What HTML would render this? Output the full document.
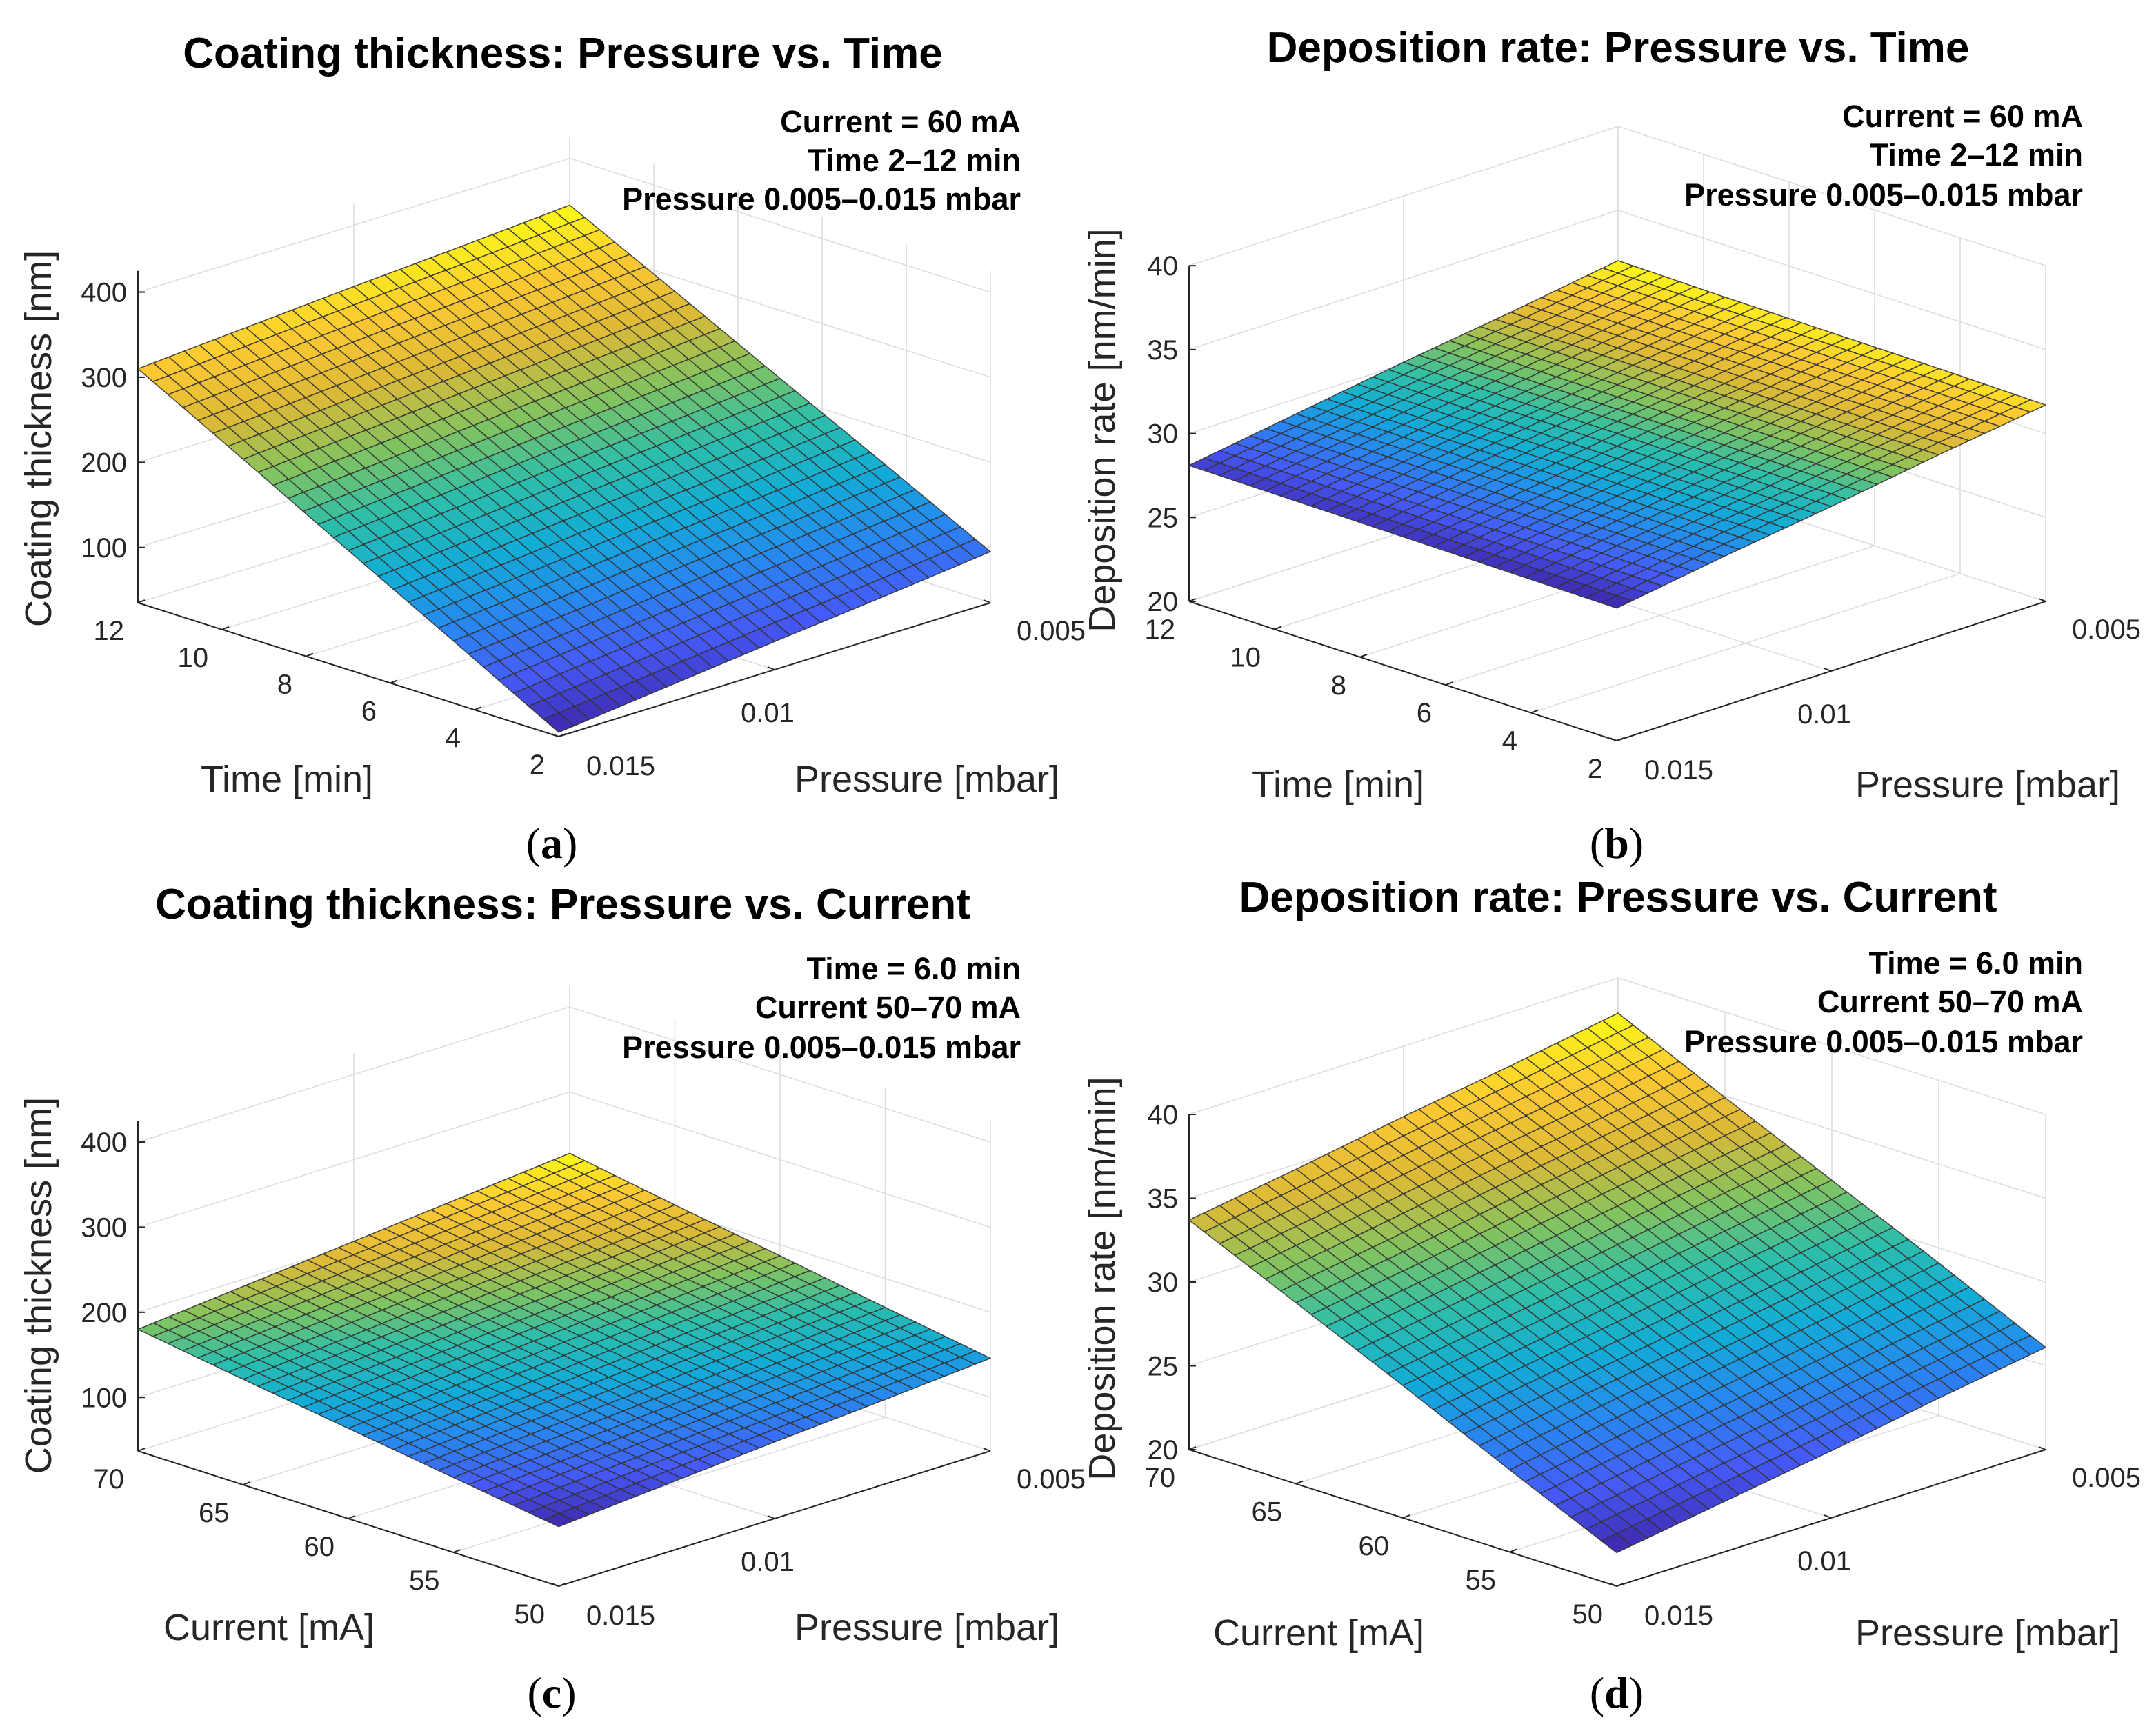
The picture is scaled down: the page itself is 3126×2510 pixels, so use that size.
<!DOCTYPE html>
<html><head><meta charset="utf-8"><style>
html,body{margin:0;padding:0;background:#fff}
svg{display:block}
text{font-family:"Liberation Sans",Arial,sans-serif;fill:#262626}
.t{font-weight:bold;font-size:31px;fill:#000}
.an{font-weight:bold;font-size:22.5px;fill:#000}
.al{font-size:27px}
.tk{font-size:20px}
.pl{font-family:"Liberation Serif",serif;font-size:32px;fill:#000}
</style></head><body>
<svg id="fig" width="3126" height="2510" viewBox="0 0 1563 1255" xmlns="http://www.w3.org/2000/svg">
<g>
<text class="t" x="408" y="49" text-anchor="middle">Coating thickness: Pressure vs. Time</text>
<text class="an" x="740" y="96" text-anchor="end">Current = 60 mA</text>
<text class="an" x="740" y="124" text-anchor="end">Time 2–12 min</text>
<text class="an" x="740" y="152" text-anchor="end">Pressure 0.005–0.015 mbar</text>
<text class="al" x="208" y="574" text-anchor="middle">Time [min]</text>
<text class="al" x="672" y="574" text-anchor="middle">Pressure [mbar]</text>
<text class="al" transform="translate(37,318) rotate(-90)" text-anchor="middle">Coating thickness [nm]</text>
<text class="pl" x="400" y="622" text-anchor="middle">(<tspan font-weight="bold">a</tspan>)</text>
</g>
<g>
<text class="t" x="1173" y="45" text-anchor="middle">Deposition rate: Pressure vs. Time</text>
<text class="an" x="1510" y="92" text-anchor="end">Current = 60 mA</text>
<text class="an" x="1510" y="120" text-anchor="end">Time 2–12 min</text>
<text class="an" x="1510" y="149" text-anchor="end">Pressure 0.005–0.015 mbar</text>
<text class="al" x="970" y="578" text-anchor="middle">Time [min]</text>
<text class="al" x="1441" y="578" text-anchor="middle">Pressure [mbar]</text>
<text class="al" transform="translate(808,312) rotate(-90)" text-anchor="middle">Deposition rate [nm/min]</text>
<text class="pl" x="1172" y="622" text-anchor="middle">(<tspan font-weight="bold">b</tspan>)</text>
</g>
<g>
<text class="t" x="408" y="666" text-anchor="middle">Coating thickness: Pressure vs. Current</text>
<text class="an" x="740" y="710" text-anchor="end">Time = 6.0 min</text>
<text class="an" x="740" y="738" text-anchor="end">Current 50–70 mA</text>
<text class="an" x="740" y="767" text-anchor="end">Pressure 0.005–0.015 mbar</text>
<text class="al" x="195" y="1189" text-anchor="middle">Current [mA]</text>
<text class="al" x="672" y="1189" text-anchor="middle">Pressure [mbar]</text>
<text class="al" transform="translate(37,932) rotate(-90)" text-anchor="middle">Coating thickness [nm]</text>
<text class="pl" x="400" y="1238" text-anchor="middle">(<tspan font-weight="bold">c</tspan>)</text>
</g>
<g>
<text class="t" x="1173" y="661" text-anchor="middle">Deposition rate: Pressure vs. Current</text>
<text class="an" x="1510" y="706" text-anchor="end">Time = 6.0 min</text>
<text class="an" x="1510" y="734" text-anchor="end">Current 50–70 mA</text>
<text class="an" x="1510" y="763" text-anchor="end">Pressure 0.005–0.015 mbar</text>
<text class="al" x="956" y="1193" text-anchor="middle">Current [mA]</text>
<text class="al" x="1441" y="1193" text-anchor="middle">Pressure [mbar]</text>
<text class="al" transform="translate(808,927) rotate(-90)" text-anchor="middle">Deposition rate [nm/min]</text>
<text class="pl" x="1172" y="1238" text-anchor="middle">(<tspan font-weight="bold">d</tspan>)</text>
</g>
</svg>
<script>
// ---- data ----
const timeGrid = [2, 4.5, 7, 9.5, 12];
const currentGrid = [50, 55, 60, 65, 70];
const pressureGrid = [0.015, 0.0125, 0.01, 0.0075, 0.005];
const thicknessVsTime = [
  [40, 54, 68, 81, 95],
  [108, 120, 133, 145, 158],
  [175, 186, 198, 209, 220],
  [243, 253, 263, 273, 283],
  [310, 319, 328, 336, 345]
];
const rateVsTime = [
  [27.9, 28.9, 29.8, 30.8, 31.7],
  [27.95, 28.95, 29.9, 30.85, 31.8],
  [28.0, 29.0, 30.0, 30.9, 31.85],
  [28.05, 29.05, 30.0, 30.95, 31.9],
  [28.1, 29.1, 30.1, 31.0, 32.0]
];
const thicknessVsCurrent = [
  [107, 117, 127, 136, 146],
  [125, 135, 145, 156, 166],
  [143, 154, 165, 176, 187],
  [161, 172, 184, 195, 207],
  [180, 192, 204, 216, 228]
];
const rateVsCurrent = [
  [22.0, 23.0, 24.0, 25.1, 26.1],
  [24.9, 26.0, 27.0, 28.0, 29.1],
  [27.9, 28.9, 29.9, 31.0, 32.0],
  [30.8, 31.8, 32.9, 33.9, 34.9],
  [33.7, 34.7, 35.8, 36.8, 37.9]
];
const timeTicks = [2, 4, 6, 8, 10, 12];
const currentTicks = [50, 55, 60, 65, 70];
const pressureTicks = [0.015, 0.01, 0.005];
const pressureTickLabels = ["0.015", "0.01", "0.005"];
const thicknessTicks = [100, 200, 300, 400];
const rateTicks = [20, 25, 30, 35, 40];

// ---- geometry (styles / layout only) ----
const panels = [
  {id:'a', F:[405,534], L:[100,437], R:[718,437], zmin:35, zmax:425, k:0.617, uMin:2, uMax:12, uGrid:timeGrid, Z:thicknessVsTime, uTicks:timeTicks, zTicks:thicknessTicks},
  {id:'b', F:[1172,537], L:[862,436], R:[1483,436], zmin:20, zmax:40, k:12.17, uMin:2, uMax:12, uGrid:timeGrid, Z:rateVsTime, uTicks:timeTicks, zTicks:rateTicks},
  {id:'c', F:[405,1150], L:[100,1052], R:[718,1052], zmin:37, zmax:425, k:0.617, uMin:50, uMax:70, uGrid:currentGrid, Z:thicknessVsCurrent, uTicks:currentTicks, zTicks:thicknessTicks},
  {id:'d', F:[1172,1150], L:[862,1051], R:[1483,1051], zmin:20, zmax:40, k:12.15, uMin:50, uMax:70, uGrid:currentGrid, Z:rateVsCurrent, uTicks:currentTicks, zTicks:rateTicks}
];
const vF = 0.015, vR = 0.005;
const pLabelDx = [45, -5, 44], pLabelDy = [28, 38, 27];

const NS = 'http://www.w3.org/2000/svg';
const svg = document.getElementById('fig');
function mk(tag, attrs, parent){const e=document.createElementNS(NS,tag);for(const k in attrs)e.setAttribute(k,attrs[k]);parent.appendChild(e);return e;}

const parula = [[0,[62,38,168]],[0.125,[70,90,248]],[0.25,[40,135,240]],[0.375,[18,172,214]],[0.5,[45,190,170]],[0.625,[130,195,95]],[0.75,[220,185,55]],[0.875,[252,200,50]],[1,[249,251,21]]];
function cmap(t){t=Math.max(0,Math.min(1,t));for(let i=1;i<parula.length;i++){if(t<=parula[i][0]){const [a,ca]=parula[i-1],[b,cb]=parula[i];const f=(t-a)/(b-a);return 'rgb('+ca.map((c,j)=>Math.round(c+(cb[j]-c)*f)).join(',')+')';}}return 'rgb(249,251,21)';}

panels.forEach(p=>{
  const g = document.createElementNS(NS,'g');
  svg.insertBefore(g, svg.firstChild);
  
  
  const U = val => (val-p.uMin)/(p.uMax-p.uMin);
  const V = val => (val-vF)/(vR-vF);
  const proj = (u,v,z) => [p.F[0]+u*(p.L[0]-p.F[0])+v*(p.R[0]-p.F[0]), p.F[1]+u*(p.L[1]-p.F[1])+v*(p.R[1]-p.F[1])-(z-p.zmin)*p.k];
  const line = (a,b,stroke,w,name) => {const l=mk('line',{x1:a[0],y1:a[1],x2:b[0],y2:b[1],stroke:stroke,'stroke-width':w},g);
    
    return l;};
  const gc='#dedede', gw=0.8;
  p.uTicks.forEach(t=>{const u=U(t);
    line(proj(u,0,p.zmin),proj(u,1,p.zmin),gc,gw,'floor-gridline');
    line(proj(u,1,p.zmin),proj(u,1,p.zmax),gc,gw,'wall-gridline');});
  pressureTicks.forEach(t=>{const v=V(t);
    line(proj(0,v,p.zmin),proj(1,v,p.zmin),gc,gw,'floor-gridline');
    line(proj(1,v,p.zmin),proj(1,v,p.zmax),gc,gw,'wall-gridline');});
  p.zTicks.forEach(z=>{
    line(proj(1,0,z),proj(1,1,z),gc,gw,'wall-gridline');
    line(proj(1,1,z),proj(0,1,z),gc,gw,'wall-gridline');});
  const ac='#262626';
  line(proj(1,0,p.zmin),proj(0,0,p.zmin),ac,1,'x-axis-line');
  line(proj(0,0,p.zmin),proj(0,1,p.zmin),ac,1,'y-axis-line');
  line(proj(1,0,p.zmin),proj(1,0,p.zmax),ac,1,'z-axis-line');
  p.uTicks.forEach(t=>{const a=proj(U(t),0,p.zmin);
    line(a,[a[0]+5,a[1]-2],ac,1,'x-tick');
    const tx=mk('text',{x:a[0]-10,y:a[1]+27,'text-anchor':'end',class:'tk'},g);tx.textContent=t;
    
    });
  pressureTicks.forEach((t,i)=>{const a=proj(0,V(t),p.zmin);
    line(a,[a[0]-5,a[1]-2],ac,1,'y-tick');
    const tx=mk('text',{x:a[0]+pLabelDx[i],y:a[1]+pLabelDy[i],'text-anchor':'middle',class:'tk'},g);tx.textContent=pressureTickLabels[i];
    
    });
  p.zTicks.forEach(z=>{const a=proj(1,0,z);
    line(a,[a[0]+5,a[1]],ac,1,'z-tick');
    const tx=mk('text',{x:a[0]-8,y:a[1]+7,'text-anchor':'end',class:'tk'},g);tx.textContent=z;
    
    });
  let zlo=Infinity,zhi=-Infinity;p.Z.forEach(r=>r.forEach(z=>{zlo=Math.min(zlo,z);zhi=Math.max(zhi,z);}));
  const S=7, quads=[];
  const nU=p.uGrid.length, nV=pressureGrid.length;
  for(let i=0;i<nU-1;i++)for(let j=0;j<nV-1;j++)for(let a=0;a<S;a++)for(let b=0;b<S;b++){
    const pt=(fa,fb)=>{const ta=(a+fa)/S, tb=(b+fb)/S;
      const uv=p.uGrid[i]+(p.uGrid[i+1]-p.uGrid[i])*ta, vv=pressureGrid[j]+(pressureGrid[j+1]-pressureGrid[j])*tb;
      const z=p.Z[i][j]*(1-ta)*(1-tb)+p.Z[i+1][j]*ta*(1-tb)+p.Z[i][j+1]*(1-ta)*tb+p.Z[i+1][j+1]*ta*tb;
      return [U(uv),V(vv),z];};
    const c=[pt(0,0),pt(1,0),pt(1,1),pt(0,1)];
    const zm=(c[0][2]+c[1][2]+c[2][2]+c[3][2])/4;
    quads.push({c,zm,d:c[0][0]+c[0][1]});
  }
  quads.sort((q1,q2)=>q2.d-q1.d);
  quads.forEach(q=>{
    const pts=q.c.map(c=>proj(c[0],c[1],c[2]).map(n=>n.toFixed(2)).join(',')).join(' ');
    const pg=mk('polygon',{points:pts,fill:cmap((q.zm-zlo)/(zhi-zlo)),stroke:'#333','stroke-width':0.75,'stroke-opacity':0.9,'stroke-linejoin':'round'},g);
    
    
  });
});
</script>
</body></html>
